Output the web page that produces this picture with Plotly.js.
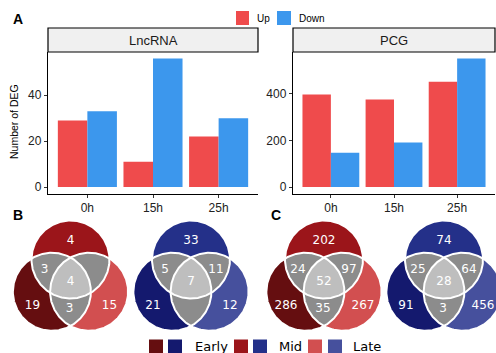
<!DOCTYPE html>
<html>
<head>
<meta charset="utf-8">
<script src="https://cdn.plot.ly/plotly-3.0.1.min.js"></script>
<style>html,body{margin:0;padding:0;background:#fff;}#chart{width:496px;height:353px;}</style>
</head>
<body>
<div id="chart"></div>
<script>
// ---------------- data ----------------
const timepoints = ['0h', '15h', '25h'];
const lncUp   = [29, 11, 22];
const lncDown = [33, 56, 30];
const pcgUp   = [397, 375, 451];
const pcgDown = [147, 191, 551];

// Venn region counts, order: EarlyOnly, MidOnly, LateOnly, Early&Mid, Mid&Late, Early&Late, All
const vennLncUp   = [19, 4, 15, 3, 0, 3, 4];
const vennLncDown = [21, 33, 12, 5, 11, 0, 7];
const vennPcgUp   = [286, 202, 267, 24, 97, 35, 52];
const vennPcgDown = [91, 74, 456, 25, 64, 3, 28];
const stageNames  = ['Early', 'Mid', 'Late'];

// ---------------- styling ----------------
const W = 496, H = 353;
const px = x => x / W, py = y => 1 - y / H;
const UP = '#EF4B4C', DOWN = '#3C97ED';
const reds  = ['#650E10', '#9B151A', '#D24F50'];
const blues = ['#14196E', '#243089', '#46509D'];
const GRAY = '#8C8C8C', LGRAY = '#BEBEBE';
const SANS = 'Liberation Sans, Arial, sans-serif';
const DV = 'DejaVu Sans, sans-serif';

const traces = [];
traces.push({type:'bar', x:timepoints, y:lncUp, marker:{color:UP}, xaxis:'x', yaxis:'y', hoverinfo:'skip', showlegend:false});
traces.push({type:'bar', x:timepoints, y:lncDown, marker:{color:DOWN}, xaxis:'x', yaxis:'y', hoverinfo:'skip', showlegend:false});
traces.push({type:'bar', x:timepoints, y:pcgUp, marker:{color:UP}, xaxis:'x2', yaxis:'y2', hoverinfo:'skip', showlegend:false});
traces.push({type:'bar', x:timepoints, y:pcgDown, marker:{color:DOWN}, xaxis:'x2', yaxis:'y2', hoverinfo:'skip', showlegend:false});

// ---------------- venn geometry (pixel overlay axis) ----------------
const R = 39, D = 21.5, C30 = Math.cos(Math.PI / 6);
function circles(cx, cy) {
  // Early = bottom-left, Mid = top, Late = bottom-right
  return [
    {x: cx - D * C30, y: cy + D / 2},
    {x: cx, y: cy - D},
    {x: cx + D * C30, y: cy + D / 2}
  ];
}
function inside(p, c) { return (p.x - c.x) ** 2 + (p.y - c.y) ** 2 <= R * R + 0.01; }
function region(cs) {
  const pts = [];
  const N = 360;
  cs.forEach((c, i) => {
    for (let k = 0; k < N; k++) {
      const a = 2 * Math.PI * k / N;
      const p = {x: c.x + R * Math.cos(a), y: c.y + R * Math.sin(a)};
      if (cs.every((o, j) => j === i || inside(p, o))) pts.push(p);
    }
  });
  const mx = pts.reduce((s, p) => s + p.x, 0) / pts.length;
  const my = pts.reduce((s, p) => s + p.y, 0) / pts.length;
  pts.sort((a, b) => Math.atan2(a.y - my, a.x - mx) - Math.atan2(b.y - my, b.x - mx));
  pts.push(pts[0]);
  return {x: pts.map(p => p.x), y: pts.map(p => p.y)};
}
function fillTrace(poly, color) {
  return {type:'scatter', mode:'lines', x:poly.x, y:poly.y, fill:'toself', fillcolor:color,
          line:{width:0, color:color}, xaxis:'x3', yaxis:'y3', hoverinfo:'skip', showlegend:false};
}
// label offsets relative to venn centre
const labelOff = [[-38, 24.5], [0, -40], [39, 24.5], [-26, -11], [25, -11], [-1, 27.5], [0, 0.5]];
function venn(cx, cy, counts, cols) {
  const cs = circles(cx, cy);
  cs.forEach((c, i) => traces.push(fillTrace(region([c]), cols[i])));
  [[0, 1], [1, 2], [0, 2]].forEach(pr => traces.push(fillTrace(region([cs[pr[0]], cs[pr[1]]]), GRAY)));
  traces.push(fillTrace(region(cs), LGRAY));
  cs.forEach(c => {
    const p = region([c]);
    traces.push({type:'scatter', mode:'lines', x:p.x, y:p.y, line:{width:2, color:'#ffffff'},
                 xaxis:'x3', yaxis:'y3', hoverinfo:'skip', showlegend:false});
  });
  const lx = [], ly = [], lt = [];
  counts.forEach((v, i) => {
    if (v > 0) { lx.push(cx + labelOff[i][0]); ly.push(cy + labelOff[i][1]); lt.push(String(v)); }
  });
  traces.push({type:'scatter', mode:'text', x:lx, y:ly, text:lt, textposition:'middle center',
               textfont:{family:DV, size:12, color:'#ffffff'}, xaxis:'x3', yaxis:'y3',
               hoverinfo:'skip', showlegend:false, cliponaxis:false});
}
venn(70.5, 281, vennLncUp, reds);
venn(191, 281, vennLncDown, blues);
venn(324, 281, vennPcgUp, reds);
venn(444, 281, vennPcgDown, blues);

// ---------------- layout ----------------
const tickFont = {family:SANS, size:12, color:'#222'};
const axBase = {showgrid:false, zeroline:false, showline:true, linecolor:'#000', linewidth:1.2,
                ticks:'outside', ticklen:3, tickcolor:'#333', tickwidth:1, tickfont:tickFont, fixedrange:true};
const yDom = [py(193.5), py(52)];

const shapes = [
  {type:'rect', xref:'paper', yref:'paper', x0:px(48), x1:px(258), y0:py(52), y1:py(28), fillcolor:'#F0F0F0', line:{color:'#000', width:1.2}},
  {type:'rect', xref:'paper', yref:'paper', x0:px(293), x1:px(495), y0:py(52), y1:py(28), fillcolor:'#F0F0F0', line:{color:'#000', width:1.2}},
  {type:'rect', xref:'paper', yref:'paper', x0:px(236), x1:px(249), y0:py(25), y1:py(11), fillcolor:UP, line:{width:0}},
  {type:'rect', xref:'paper', yref:'paper', x0:px(277), x1:px(291), y0:py(25), y1:py(11), fillcolor:DOWN, line:{width:0}}
];
const legendX = [[149, 168, 195], [234, 253, 279], [308, 328, 353]];
legendX.forEach((lx, i) => {
  shapes.push({type:'rect', xref:'paper', yref:'paper', x0:px(lx[0]), x1:px(lx[0] + 14), y0:py(353), y1:py(339.5), fillcolor:reds[i], line:{width:0}});
  shapes.push({type:'rect', xref:'paper', yref:'paper', x0:px(lx[1]), x1:px(lx[1] + 14), y0:py(353), y1:py(339.5), fillcolor:blues[i], line:{width:0}});
});

function ann(text, x, y, font, extra) {
  return Object.assign({text:text, xref:'paper', yref:'paper', x:px(x), y:py(y), showarrow:false,
                        xanchor:'center', yanchor:'middle', font:font}, extra || {});
}
const annotations = [
  ann('<b>A</b>', 18, 19, {family:SANS, size:14, color:'#000'}),
  ann('<b>B</b>', 18, 215, {family:SANS, size:14, color:'#000'}),
  ann('<b>C</b>', 276, 215, {family:SANS, size:14, color:'#000'}),
  ann('LncRNA', 153, 40, {family:SANS, size:13, color:'#1a1a1a'}),
  ann('PCG', 394, 40, {family:SANS, size:13, color:'#1a1a1a'}),
  ann('Up', 255, 18, {family:SANS, size:10, color:'#000'}, {xanchor:'left'}),
  ann('Down', 297, 18, {family:SANS, size:10, color:'#000'}, {xanchor:'left'}),
  ann('Number of DEG', 14, 122, {family:SANS, size:10.5, color:'#000'}, {textangle:-90})
];
legendX.forEach((lx, i) => {
  annotations.push(ann(stageNames[i], lx[2] - 2, 346.5, {family:DV, size:13, color:'#000'}, {xanchor:'left'}));
});

const layout = {
  width:W, height:H, margin:{l:0, r:0, t:0, b:0},
  paper_bgcolor:'#fff', plot_bgcolor:'rgba(0,0,0,0)',
  showlegend:false, barmode:'group', bargap:0.1, bargroupgap:0,
  xaxis: Object.assign({}, axBase, {domain:[px(48), px(258)], anchor:'y', type:'category', range:[-0.6, 2.6]}),
  yaxis: Object.assign({}, axBase, {domain:yDom, anchor:'x', range:[-2.8, 58.8], tickvals:[0, 20, 40]}),
  xaxis2: Object.assign({}, axBase, {domain:[px(293), px(495)], anchor:'y2', type:'category', range:[-0.6, 2.6]}),
  yaxis2: Object.assign({}, axBase, {domain:yDom, anchor:'x2', range:[-27.55, 578.55], tickvals:[0, 200, 400]}),
  xaxis3: {domain:[0, 1], range:[0, W], visible:false, fixedrange:true, anchor:'y3'},
  yaxis3: {domain:[0, 1], range:[H, 0], visible:false, fixedrange:true, anchor:'x3'},
  shapes:shapes, annotations:annotations
};
Plotly.newPlot('chart', traces, layout, {displayModeBar:false, staticPlot:true});
</script>
</body>
</html>
